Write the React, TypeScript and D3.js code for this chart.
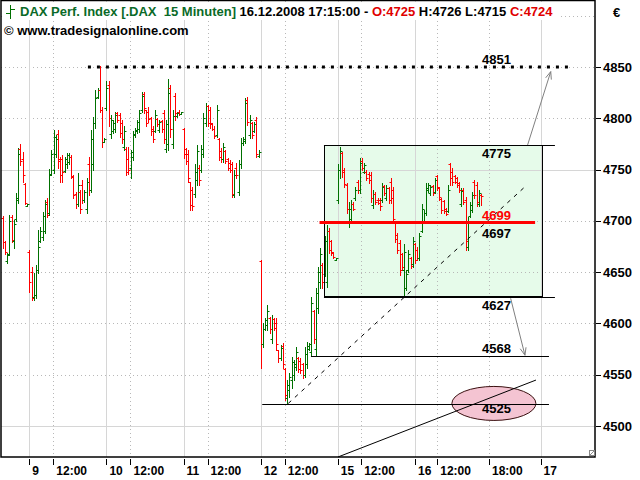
import React from "react";
import * as d3 from "d3";

type Bar = [number, number, number, number]; // open, high, low, close

// 8 Dec (tail)
const dec08: Bar[] = [
  [4703,4705,4674,4679],[4679,4680,4668,4670],[4661,4669,4659,4667],[4668,4706,4667,4700],
  [4704,4706,4679,4681],[4680,4701,4674,4697],[4702,4727,4700,4722],[4720,4771,4717,4765],
  [4770,4775,4754,4758],[4760,4767,4738,4745],[4736,4737,4716,4717],[4714,4716,4714,4716],
];
const dec09: Bar[] = [
  [4670,4672,4631,4640],[4650,4655,4623,4625],[4626,4649,4623,4628],[4628,4657,4625,4652],
  [4652,4691,4649,4675],[4680,4694,4679,4690],[4684,4709,4681,4705],[4690,4720,4688,4716],
  [4718,4722,4704,4706],[4708,4751,4706,4745],[4746,4769,4745,4765],[4750,4789,4747,4782],
  [4765,4784,4762,4780],[4785,4789,4752,4758],[4760,4762,4738,4745],[4760,4764,4738,4748],
  [4749,4762,4748,4760],[4755,4766,4752,4764],[4757,4766,4755,4762],[4762,4764,4742,4744],
  [4743,4745,4722,4725],[4726,4728,4713,4716],[4716,4747,4714,4735],[4728,4730,4708,4712],
  [4735,4740,4717,4720],[4720,4730,4718,4728],[4712,4742,4708,4738],[4755,4762,4725,4730],
  [4730,4789,4728,4780],[4755,4801,4750,4795],[4795,4828,4791,4820],[4821,4830,4820,4828],
  [4828,4851,4806,4808],[4808,4811,4772,4777],[4777,4781,4777,4780],
];
const dec10: Bar[] = [
  [4810,4836,4808,4830],[4832,4836,4792,4800],[4785,4803,4781,4798],[4788,4798,4786,4795],
  [4790,4806,4787,4803],[4805,4806,4796,4798],[4803,4805,4782,4786],[4795,4798,4776,4780],
  [4772,4792,4769,4788],[4770,4772,4745,4748],[4760,4772,4746,4750],[4752,4769,4742,4767],
  [4762,4788,4759,4785],[4784,4791,4782,4789],[4788,4798,4786,4796],[4790,4808,4787,4805],
  [4808,4826,4806,4822],[4824,4826,4805,4810],[4808,4808,4792,4795],[4806,4811,4796,4799],
  [4800,4801,4784,4788],[4790,4792,4777,4780],[4788,4808,4787,4803],[4799,4800,4792,4794],
  [4789,4798,4787,4796],[4797,4798,4787,4790],[4805,4808,4776,4780],[4770,4798,4767,4794],
  [4775,4838,4769,4825],[4830,4832,4782,4790],[4775,4808,4771,4802],[4822,4825,4798,4805],
  [4802,4806,4801,4805],[4806,4808,4803,4804],[4804,4806,4804,4806],
];
const dec11: Bar[] = [
  [4790,4791,4761,4765],[4770,4771,4755,4758],[4765,4769,4738,4742],[4738,4738,4711,4715],
  [4730,4733,4711,4714],[4726,4755,4723,4748],[4740,4774,4735,4768],[4752,4754,4735,4740],
  [4750,4774,4748,4770],[4765,4805,4762,4800],[4795,4815,4792,4812],[4812,4813,4792,4795],
  [4808,4811,4791,4794],[4795,4795,4789,4790],[4790,4792,4781,4783],[4784,4813,4782,4808],
  [4780,4781,4759,4762],[4768,4771,4757,4760],[4760,4776,4757,4772],[4768,4769,4756,4758],
  [4760,4761,4750,4752],[4756,4759,4748,4750],[4755,4757,4723,4726],[4725,4750,4723,4745],
  [4752,4756,4742,4745],[4728,4759,4725,4755],[4755,4781,4752,4776],[4776,4782,4774,4780],
  [4778,4820,4776,4815],[4818,4821,4793,4796],[4784,4803,4781,4798],[4795,4796,4781,4784],
  [4788,4796,4787,4794],[4798,4801,4762,4765],[4763,4769,4762,4767],
];
const dec12: Bar[] = [
  [4661,4662,4557,4580],[4580,4600,4577,4595],[4595,4605,4594,4603],[4598,4618,4594,4612],
  [4605,4606,4591,4595],[4585,4608,4581,4604],[4604,4605,4594,4596],[4600,4605,4574,4580],
  [4574,4574,4562,4566],[4566,4579,4564,4576],[4578,4581,4557,4560],[4556,4557,4525,4530],
  [4527,4545,4522,4540],[4535,4552,4528,4548],[4545,4567,4537,4562],[4550,4564,4545,4560],
  [4558,4577,4555,4572],[4566,4567,4553,4556],[4563,4566,4552,4555],[4560,4561,4547,4550],
  [4550,4577,4548,4570],[4560,4582,4557,4578],[4575,4581,4574,4580],[4572,4626,4569,4620],
  [4612,4613,4581,4585],[4575,4635,4569,4630],[4615,4655,4610,4650],[4640,4674,4635,4668],
  [4657,4659,4635,4640],[4648,4685,4646,4680],[4640,4696,4636,4690],[4690,4693,4669,4672],
  [4680,4681,4667,4670],[4669,4670,4664,4665],[4662,4664,4662,4664],
];
const dec15: Bar[] = [
  [4720,4755,4717,4750],[4750,4772,4742,4768],[4766,4767,4743,4748],[4750,4752,4733,4736],
  [4735,4737,4708,4712],[4698,4718,4694,4712],[4702,4720,4699,4716],[4716,4718,4711,4712],
  [4722,4733,4720,4730],[4738,4740,4727,4730],[4730,4761,4727,4756],[4758,4761,4750,4752],
  [4748,4756,4747,4754],[4748,4750,4740,4742],[4746,4748,4737,4740],[4745,4748,4718,4722],
  [4715,4730,4713,4726],[4726,4728,4716,4718],[4720,4722,4716,4717],[4720,4722,4711,4714],
  [4720,4737,4718,4733],[4734,4735,4725,4727],[4722,4735,4720,4732],[4732,4733,4717,4720],
  [4738,4742,4717,4722],[4730,4733,4698,4702],[4699,4699,4679,4682],[4686,4688,4669,4672],
  [4678,4681,4647,4652],[4668,4669,4652,4655],[4652,4677,4627,4670],[4635,4652,4633,4648],
  [4652,4672,4650,4668],[4664,4665,4654,4656],[4658,4684,4655,4680],
];
const dec16: Bar[] = [
  [4677,4678,4659,4662],[4672,4675,4662,4664],[4664,4688,4662,4685],[4690,4716,4689,4712],
  [4700,4711,4698,4708],[4708,4737,4706,4732],[4730,4737,4728,4735],[4727,4735,4725,4733],
  [4734,4735,4725,4727],[4728,4742,4727,4740],[4744,4745,4730,4733],[4732,4733,4720,4723],
  [4721,4722,4708,4711],[4719,4720,4708,4710],[4712,4713,4706,4707],[4710,4735,4709,4730],
  [4755,4756,4735,4742],[4748,4752,4735,4738],[4744,4745,4737,4738],[4742,4743,4733,4735],
  [4737,4738,4728,4730],[4716,4732,4714,4729],[4730,4732,4716,4718],[4720,4723,4672,4680],
  [4675,4704,4672,4700],[4705,4718,4704,4715],[4711,4728,4709,4725],[4738,4740,4722,4725],
  [4735,4738,4714,4718],[4716,4730,4714,4727],[4725,4726,4715,4724],
];

const bars: Bar[] = [dec08, dec09, dec10, dec11, dec12, dec15, dec16].flat();

const priceLabels = [4500, 4550, 4600, 4650, 4700, 4750, 4800, 4850];
const gridPrices = [4500, 4550, 4600, 4650, 4700, 4750, 4800, 4850, 4900];
const solidGridPrices = [4500, 4750];

// x ticks: bar-index position, label, day boundary?
const xTickPos = [12, 22.9, 47, 57.9, 82, 92.9, 117, 127.9, 152, 162.6, 187, 197.1, 220.6, 244];
const xTickLabels = ["9", "12:00", "10", "12:00", "11", "12:00", "12", "12:00", "15", "12:00", "16", "12:00", "18:00", "17"];
const xTickMajor = [true, false, true, false, true, false, true, false, true, false, true, false, false, true];

// drawing tools (bar-index / price)
const resistance = { price: 4850, from: 38.6, to: 256.4, label: "4851" };
const boxTop = 4773.5, boxBottom = 4626, boxFrom = 145.7, boxTo = 244.8, boxLineTo = 250.5;
const redLevel = { price: 4698.5, from: 143.7, to: 241.5 };
const level4568 = { price: 4568, from: 139.8, to: 247.8 };
const level4525 = { price: 4521.5, from: 117.7, to: 247.8 };
const dashedTrend = [[129.5, 4522], [237.8, 4735]];
const solidTrend = [[152.1, 4469.8], [241.9, 4544.8]];
const ellipseCenter = [222.8, 4522];
const arrowUp = [[238.1, 4774], [248.6, 4845.5]];
const arrowDown = [[230.4, 4624.5], [236.9, 4569]];
const labelPos = 217.4;
const levelTexts = [
  { text: "4851", price: 4850, dy: -3, color: "#000" },
  { text: "4775", price: 4773.5, dy: 12.5, color: "#000" },
  { text: "4699", price: 4698.5, dy: -2.5, color: "#ff0000" },
  { text: "4697", price: 4698.5, dy: 15.5, color: "#000" },
  { text: "4627", price: 4626, dy: 13, color: "#000" },
  { text: "4568", price: 4568, dy: -3.5, color: "#000" },
  { text: "4525", price: 4521.5, dy: 9, color: "#000" },
];

const FONT = "'Liberation Sans', Arial, sans-serif";
const GREEN = "#007000";
const RED = "#ff0000";

function arrowHead(x1: number, y1: number, x2: number, y2: number, len = 8, ang = 0.38) {
  const a = Math.atan2(y2 - y1, x2 - x1);
  const ax = x2 - len * Math.cos(a - ang), ay = y2 - len * Math.sin(a - ang);
  const bx = x2 - len * Math.cos(a + ang), by = y2 - len * Math.sin(a + ang);
  return `M${ax},${ay}L${x2},${y2}L${bx},${by}`;
}

export default function App() {
  const L = 1, R = 595, T = 1, B = 457;
  const x = d3.scaleLinear().domain([0, 244]).range([2.85, 540.6]);
  const y = d3.scaleLinear().domain([4500, 4850]).range([426, 67]);
  const px = (v: number) => Math.round(v) + 0.5;

  const line = d3.line<number[]>().x((d) => x(d[0])).y((d) => y(d[1]));

  return (
    <svg width={640} height={480} style={{ position: "absolute", left: 0, top: 0, background: "#fff" }} fontFamily={FONT}>
      <rect x={0} y={0} width={640} height={480} fill="#fff" />
      {/* box fill */}
      <rect x={x(boxFrom)} y={y(boxTop)} width={x(boxTo) - x(boxFrom)} height={y(boxBottom) - y(boxTop)} fill="#e6fbea" />
      {/* horizontal grid */}
      {gridPrices.map((p) => {
        const solid = solidGridPrices.includes(p);
        return (
          <line key={"h" + p} x1={L} x2={R} y1={px(y(p))} y2={px(y(p))}
            stroke={solid ? "#d6d6d6" : "#b8b8b8"} strokeDasharray={solid ? undefined : "1 3"} />
        );
      })}
      {/* vertical grid */}
      {xTickPos.map((t, i) => (
        <line key={"v" + i} x1={px(x(t))} x2={px(x(t))} y1={T} y2={B}
          stroke={xTickMajor[i] ? "#d6d6d6" : "#b8b8b8"} strokeDasharray={xTickMajor[i] ? undefined : "1 3"} />
      ))}
      {/* title background */}
      <rect x={2} y={2} width={556} height={18} fill="#fff" />
      {/* OHLC bars */}
      {bars.map((b, i) => {
        const [o, h, l, c] = b;
        const col = c >= o ? GREEN : RED;
        const xc = px(x(i));
        const yo = px(y(o)), yc = px(y(c));
        return (
          <g key={"b" + i} stroke={col} strokeWidth={1}>
            <line x1={xc} x2={xc} y1={Math.round(y(h))} y2={Math.round(y(l)) + 1} />
            <line x1={xc - 2} x2={xc} y1={yo} y2={yo} />
            <line x1={xc} x2={xc + 2} y1={yc} y2={yc} />
          </g>
        );
      })}
      {/* box outline and level lines */}
      <rect x={px(x(boxFrom))} y={px(y(boxTop))} width={Math.round(x(boxTo) - x(boxFrom))} height={Math.round(y(boxBottom) - y(boxTop))}
        fill="none" stroke="#000" />
      <line x1={x(boxFrom)} x2={x(boxLineTo)} y1={px(y(boxTop))} y2={px(y(boxTop))} stroke="#000" />
      <line x1={x(boxFrom)} x2={x(boxLineTo)} y1={px(y(boxBottom))} y2={px(y(boxBottom))} stroke="#000" />
      <line x1={x(level4568.from)} x2={x(level4568.to)} y1={px(y(level4568.price))} y2={px(y(level4568.price))} stroke="#000" />
      {/* ellipse */}
      <ellipse cx={x(ellipseCenter[0])} cy={y(ellipseCenter[1])} rx={42} ry={17} fill="#f4c4d2" stroke="#3a1010" strokeWidth={1} />
      <line x1={x(level4525.from)} x2={x(level4525.to)} y1={px(y(level4525.price))} y2={px(y(level4525.price))} stroke="#000" />
      {/* trend lines */}
      <path d={line(dashedTrend) || ""} fill="none" stroke="#000" strokeDasharray="4 5" />
      <path d={line(solidTrend) || ""} fill="none" stroke="#000" />
      {/* red level */}
      <line x1={x(redLevel.from)} x2={x(redLevel.to)} y1={y(redLevel.price)} y2={y(redLevel.price)} stroke={RED} strokeWidth={3} />
      {/* resistance dotted */}
      <line x1={x(resistance.from)} x2={x(resistance.to)} y1={y(resistance.price)} y2={y(resistance.price)}
        stroke="#000" strokeWidth={3} strokeDasharray="3 6" />
      {/* arrows */}
      {[arrowUp, arrowDown].map((a, i) => {
        const x1 = x(a[0][0]), y1 = y(a[0][1]), x2 = x(a[1][0]), y2 = y(a[1][1]);
        return (
          <g key={"a" + i} stroke="#808080" fill="none" strokeWidth={1}>
            <line x1={x1} y1={y1} x2={x2} y2={y2} />
            <path d={arrowHead(x1, y1, x2, y2)} />
          </g>
        );
      })}
      {/* level labels */}
      {levelTexts.map((t, i) => (
        <text key={"lt" + i} x={x(labelPos)} y={y(t.price) + t.dy} fontSize={13} fontWeight="bold" fill={t.color}>{t.text}</text>
      ))}
      {/* frame */}
      <rect x={1} y={0.5} width={R - 1} height={B - 0.5} fill="none" stroke="#000" strokeWidth={1.5} />
      {/* resize grip */}
      <rect x={589.5} y={450.5} width={5} height={5} fill="#fff" stroke="#888" />
      <line x1={589.5} y1={455.5} x2={594.5} y2={450.5} stroke="#888" />
      {/* y axis */}
      {priceLabels.map((p) => (
        <g key={"y" + p}>
          <line x1={596} x2={601} y1={px(y(p))} y2={px(y(p))} stroke="#000" />
          <text x={603} y={y(p) + 4.5} fontSize={13} fontWeight="bold" fill="#000">{p}</text>
        </g>
      ))}
      {/* x axis */}
      {xTickPos.map((t, i) => (
        <g key={"x" + i}>
          <line x1={px(x(t))} x2={px(x(t))} y1={459} y2={465} stroke="#000" />
          <text x={x(t) + 3} y={475} fontSize={12} fontWeight="bold" fill="#000">{xTickLabels[i]}</text>
        </g>
      ))}
      {/* title */}
      <g stroke={GREEN} strokeWidth={1}>
        <line x1={10.5} x2={10.5} y1={5} y2={19} />
        <line x1={6} x2={10.5} y1={13.5} y2={13.5} />
        <line x1={10.5} x2={15} y1={9.5} y2={9.5} />
      </g>
      <text x={20} y={16} fontSize={13} fontWeight="bold" style={{ whiteSpace: "pre" }}>
        <tspan fill="#0a6a28">DAX Perf. Index [.DAX  15 Minuten]</tspan>
        <tspan fill="#000"> 16.12.2008 17:15:00 - </tspan>
        <tspan fill="#e00000">O:4725</tspan>
        <tspan fill="#000"> H:4726 L:4715 </tspan>
        <tspan fill="#e00000">C:4724</tspan>
      </text>
      <text x={4} y={35} fontSize={13} fontWeight="bold" fill="#000">© www.tradesignalonline.com</text>
      <text x={613} y={17} fontSize={13} fontWeight="bold" fill="#000">€</text>
    </svg>
  );
}
